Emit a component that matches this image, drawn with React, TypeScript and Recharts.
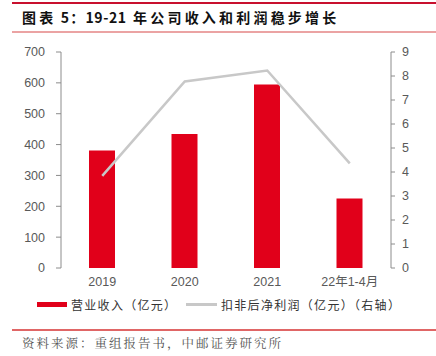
import React from "react";
import { ComposedChart, Bar, Line, XAxis, YAxis } from "recharts";

const categories = ["2019", "2020", "2021", "22年1-4月"];
const revenue = [381, 434, 595, 225];
const profit = [3.84, 7.77, 8.23, 4.36];
const leftTicks = [0, 100, 200, 300, 400, 500, 600, 700];
const rightTicks = [0, 1, 2, 3, 4, 5, 6, 7, 8, 9];
const edgeTicks = [0, 1, 2, 3, 4];

const titleParts = ["图表", " 5：", "19-21", " 年公司收入和利润稳步增长"];
const source = "资料来源：重组报告书，中邮证券研究所";
const revenueName = "营业收入（亿元）";
const profitName = "扣非后净利润（亿元）（右轴）";

const data = categories.map((c, i) => ({ name: c, revenue: revenue[i], profit: profit[i] }));

const RED = "#E1001A";
const GRAY_LINE = "#C8C8C8";
const AXIS = "#8C8C8C";
const TICK_TEXT = "#595959";
const FONT = "'Liberation Sans', Arial, 'Noto Sans CJK SC', sans-serif";
const CJK = "'Noto Sans CJK SC', sans-serif";

export default function App() {
  const tickStyle = { fill: TICK_TEXT, fontSize: 12.5, fontFamily: FONT };
  return (
    <div style={{ position: "fixed", left: 0, top: 0, width: 436, height: 356, background: "#fff", overflow: "hidden" }}>
      <ComposedChart
        width={436}
        height={356}
        data={data}
        margin={{ top: 52, right: 0, left: 0, bottom: 58 }}
      >
        <XAxis
          xAxisId="edge"
          type="number"
          domain={[0, 4]}
          ticks={edgeTicks}
          tick={false}
          tickSize={4}
          height={0}
          axisLine={{ stroke: AXIS }}
          tickLine={{ stroke: AXIS }}
          allowDataOverflow
        />
        <XAxis
          xAxisId="cat"
          dataKey="name"
          type="category"
          axisLine={false}
          tickLine={false}
          tickSize={4}
          tickMargin={5}
          height={30}
          tick={tickStyle}
          interval={0}
        />
        <YAxis
          yAxisId="left"
          orientation="left"
          domain={[0, 700]}
          ticks={leftTicks}
          width={61}
          tickSize={5}
          tickMargin={11}
          axisLine={{ stroke: AXIS }}
          tickLine={{ stroke: AXIS }}
          tick={tickStyle}
          interval={0}
        />
        <YAxis
          yAxisId="right"
          orientation="right"
          domain={[0, 9]}
          ticks={rightTicks}
          width={45}
          tickSize={4}
          tickMargin={7}
          axisLine={{ stroke: AXIS }}
          tickLine={{ stroke: AXIS }}
          tick={tickStyle}
          interval={0}
        />
        <Bar
          xAxisId="cat"
          yAxisId="left"
          dataKey="revenue"
          fill={RED}
          barSize={26}
          isAnimationActive={false}
        />
        <Line
          xAxisId="cat"
          yAxisId="right"
          dataKey="profit"
          stroke={GRAY_LINE}
          strokeWidth={2.5}
          dot={false}
          type="linear"
          isAnimationActive={false}
        />
      </ComposedChart>

      <div style={{ position: "absolute", left: 12, top: 2, width: 424, height: 2, background: "#C8102E" }} />
      <div
        style={{
          position: "absolute",
          left: 22,
          top: 7,
          fontFamily: CJK,
          fontWeight: 700,
          fontSize: 14,
          color: "#111",
          whiteSpace: "nowrap",
          lineHeight: "20px",
        }}
      >
        <span style={{ letterSpacing: 3.2 }}>{titleParts[0]}</span>
        <span style={{ letterSpacing: 1.2 }}>{titleParts[1]}</span>
        <span style={{ letterSpacing: 0.6 }}>{titleParts[2]}</span>
        <span style={{ letterSpacing: 3.2 }}>{titleParts[3]}</span>
      </div>
      <div style={{ position: "absolute", left: 12, top: 31, width: 424, height: 2, background: "#EBA3A3" }} />

      <div style={{ position: "absolute", left: 0, top: 296, width: 436, height: 18 }}>
        <div style={{ position: "absolute", left: 37, top: 6, width: 30, height: 5, background: RED }} />
        <div
          style={{
            position: "absolute",
            left: 71,
            top: 0,
            fontFamily: CJK,
            fontSize: 12,
            letterSpacing: 1.3,
            color: "#333",
            whiteSpace: "nowrap",
            lineHeight: "18px",
          }}
        >
          {revenueName}
        </div>
        <div style={{ position: "absolute", left: 186, top: 7, width: 31, height: 3, background: GRAY_LINE }} />
        <div
          style={{
            position: "absolute",
            left: 221,
            top: 0,
            fontFamily: CJK,
            fontSize: 12,
            letterSpacing: 1.3,
            color: "#333",
            whiteSpace: "nowrap",
            lineHeight: "18px",
          }}
        >
          {profitName}
        </div>
      </div>

      <div style={{ position: "absolute", left: 12, top: 329, width: 424, height: 1.5, background: "#E06666" }} />
      <div
        style={{
          position: "absolute",
          left: 22,
          top: 335,
          fontFamily: "'Noto Serif CJK SC', serif",
          fontSize: 12.5,
          letterSpacing: 2.0,
          color: "#555",
          whiteSpace: "nowrap",
          lineHeight: "16px",
        }}
      >
        {source}
      </div>
    </div>
  );
}
